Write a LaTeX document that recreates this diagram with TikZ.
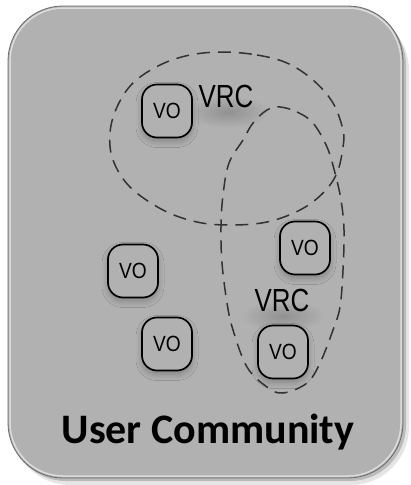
\documentclass[tikz,border=0pt]{standalone}
\usepackage{fontspec}
\setmainfont{Carlito}
\newfontfamily\hel{Liberation Sans}
\usetikzlibrary{shadows.blur}
\definecolor{boxgray}{RGB}{177,177,177}
\definecolor{edgegray}{RGB}{105,105,105}
\definecolor{dashgray}{RGB}{50,50,50}
\tikzset{
  vobox/.style={draw=black, line width=1.7pt, rounded corners=15pt, fill=boxgray,
    minimum width=50pt, minimum height=53pt, inner sep=0pt,
    font=\hel\fontsize{22}{22}\selectfont,
    blur shadow={shadow xshift=0pt, shadow yshift=-4pt, shadow blur steps=8, shadow opacity=25, shadow blur radius=6pt}},
  vrctext/.style={inner sep=0pt, font=\hel\fontsize{32}{32}\selectfont},
  textglow/.style={inner color=black!18!boxgray, outer color=boxgray},
  dashline/.style={draw=dashgray, line width=1.5pt, dash pattern=on 13pt off 8pt},
  titletext/.style={inner sep=0pt, font=\fontsize{42}{42}\selectfont\bfseries}
}
\begin{document}
\begin{tikzpicture}[x=1pt,y=-1pt]
\useasboundingbox (0,0) rectangle (411,485);
\fill[white] (0,0) rectangle (411,485);
% shadow of the main box
\fill[black, opacity=0.10, rounded corners=58pt] (12,12) rectangle (409,485);
\fill[black, opacity=0.18, rounded corners=56pt] (10,9) rectangle (406,481);
% main box
\fill[boxgray, draw=edgegray, line width=0.8pt, rounded corners=55pt] (8,6) rectangle (403,478);
\draw[white, opacity=0.55, line width=1.5pt, rounded corners=53pt] (10,8) rectangle (401,476);
% soft glows under the VRC labels
\shade[textglow] (228,112) ellipse [x radius=42pt, y radius=16pt];
\shade[textglow] (283,316) ellipse [x radius=42pt, y radius=16pt];
% big VRC ellipse (top)
\draw[dashline] plot[smooth cycle, tension=0.6] coordinates {
  (223,52) (257,55) (287,63) (313,80) (333,103) (343,130) (343,147) (337,173)
  (323,193) (300,210) (267,222) (230,225) (197,222) (163,210) (130,187)
  (113,160) (110,133) (117,107) (133,83) (160,65) (190,55)};
% tall VRC ellipse (right)
\draw[dashline] plot[smooth cycle, tension=0.6] coordinates {
  (280,107) (297,112) (313,123) (327,147) (335,173) (341,200) (344,230)
  (343,270) (340,307) (333,330) (320,363) (307,383) (283,393) (267,387)
  (247,367) (233,330) (227,303) (222,263) (221,227) (223,195) (229,163)
  (243,140) (253,123) (267,110)};
% VO boxes
\node[vobox] (vo1) at (167,111) {\scalebox{0.87}[1]{VO}};
\node[vobox] (vo2) at (133,271) {\scalebox{0.87}[1]{VO}};
\node[vobox] (vo3) at (167,344) {\scalebox{0.87}[1]{VO}};
\node[vobox] (vo4) at (305,248) {\scalebox{0.87}[1]{VO}};
\node[vobox] (vo5) at (283,352) {\scalebox{0.87}[1]{VO}};
% VRC labels
\node[vrctext, anchor=base] (vrc1) at (226,107) {\scalebox{0.81}[1]{VRC}};
\node[vrctext, anchor=base] (vrc2) at (282,311) {\scalebox{0.81}[1]{VRC}};
% title
\node[titletext, anchor=base] (title) at (208,443) {User Community};
\end{tikzpicture}
\end{document}
